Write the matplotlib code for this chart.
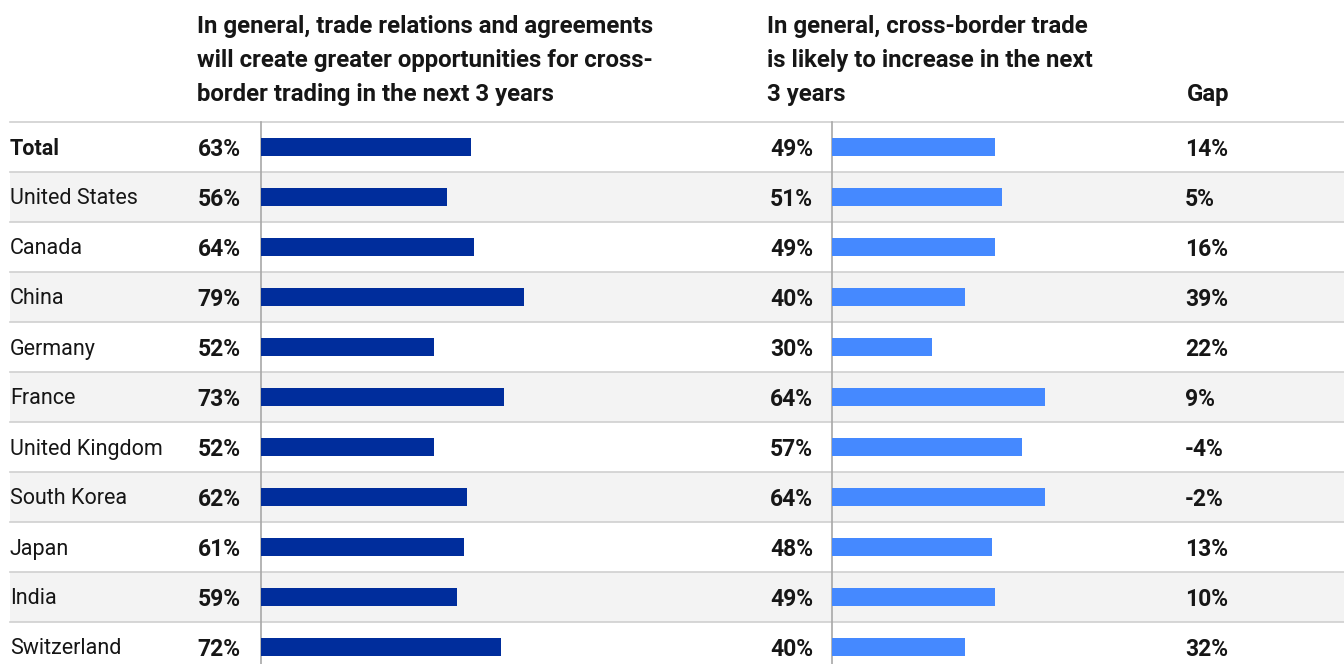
import matplotlib.pyplot as plt
from matplotlib.patches import Rectangle

countries = ['Total', 'United States', 'Canada', 'China', 'Germany', 'France',
             'United Kingdom', 'South Korea', 'Japan', 'India', 'Switzerland']
agreements = [63, 56, 64, 79, 52, 73, 52, 62, 61, 59, 72]
increase = [49, 51, 49, 40, 30, 64, 57, 64, 48, 49, 40]
gap = [14, 5, 16, 39, 22, 9, -4, -2, 13, 10, 32]

header_left = 'In general, trade relations and agreements\nwill create greater opportunities for cross-\nborder trading in the next 3 years'
header_right = 'In general, cross-border trade\nis likely to increase in the next\n3 years'

dark_blue = '#002d9c'
light_blue = '#4589ff'
shade = '#f3f3f3'
rule = '#d0d0d0'

W, H = 1344, 664
plt.rcParams['font.family'] = ['Roboto', 'DejaVu Sans']

fig = plt.figure(figsize=(W / 100, H / 100), dpi=100)

# background layout axes in pixel units
bg = fig.add_axes([0, 0, 1, 1])
bg.set_xlim(0, W)
bg.set_ylim(H, 0)
bg.axis('off')

top = 122
row_h = 50
for i, name in enumerate(countries):
    y0 = top + i * row_h
    yc = y0 + row_h / 2
    if i % 2 == 1:
        bg.add_patch(Rectangle((10, y0), W - 10, row_h, color=shade, lw=0, zorder=0))
    bg.plot([10, W], [y0, y0], color=rule, lw=1.2, zorder=1)
    bg.text(10, yc + 2, name, fontsize=15.5, va='center', ha='left',
            fontweight='bold' if i == 0 else 'normal', color='#161616')
    bg.text(241, yc + 3, f'{agreements[i]}%', fontsize=16.5, va='center', ha='right',
            fontweight='bold', color='#161616')
    bg.text(813, yc + 3, f'{increase[i]}%', fontsize=16.5, va='center', ha='right',
            fontweight='bold', color='#161616')
    bg.text(1185, yc + 3, f'{gap[i]}%', fontsize=16.5, va='center', ha='left',
            fontweight='bold', color='#161616')

# headers: anchored on the baseline of the last line
bg.text(197, 101, header_left, fontsize=17.3, fontweight='bold', va='baseline',
        ha='left', linespacing=1.6, color='#161616')
bg.text(767, 101, header_right, fontsize=17.3, fontweight='bold', va='baseline',
        ha='left', linespacing=1.6, color='#161616')
bg.text(1187, 101, 'Gap', fontsize=17.3, fontweight='bold', va='baseline', ha='left',
        color='#161616')

n_rows_visible = (H - top) / row_h


def bar_axes(x_px, values, color):
    ax = fig.add_axes([x_px / W, 0, 333 / W, (H - top) / H])
    ax.patch.set_alpha(0)
    ax.barh(range(len(values)), values, height=0.36, color=color, zorder=3)
    ax.set_xlim(0, 100)
    ax.set_ylim(-0.5 + n_rows_visible, -0.5)
    for s in ['top', 'right', 'bottom']:
        ax.spines[s].set_visible(False)
    ax.spines['left'].set_color('#a8a8a8')
    ax.spines['left'].set_linewidth(1.2)
    ax.set_xticks([])
    ax.set_yticks([])
    return ax


bar_axes(261, agreements, dark_blue)
bar_axes(832, increase, light_blue)

fig.savefig('out.png', dpi=100)
